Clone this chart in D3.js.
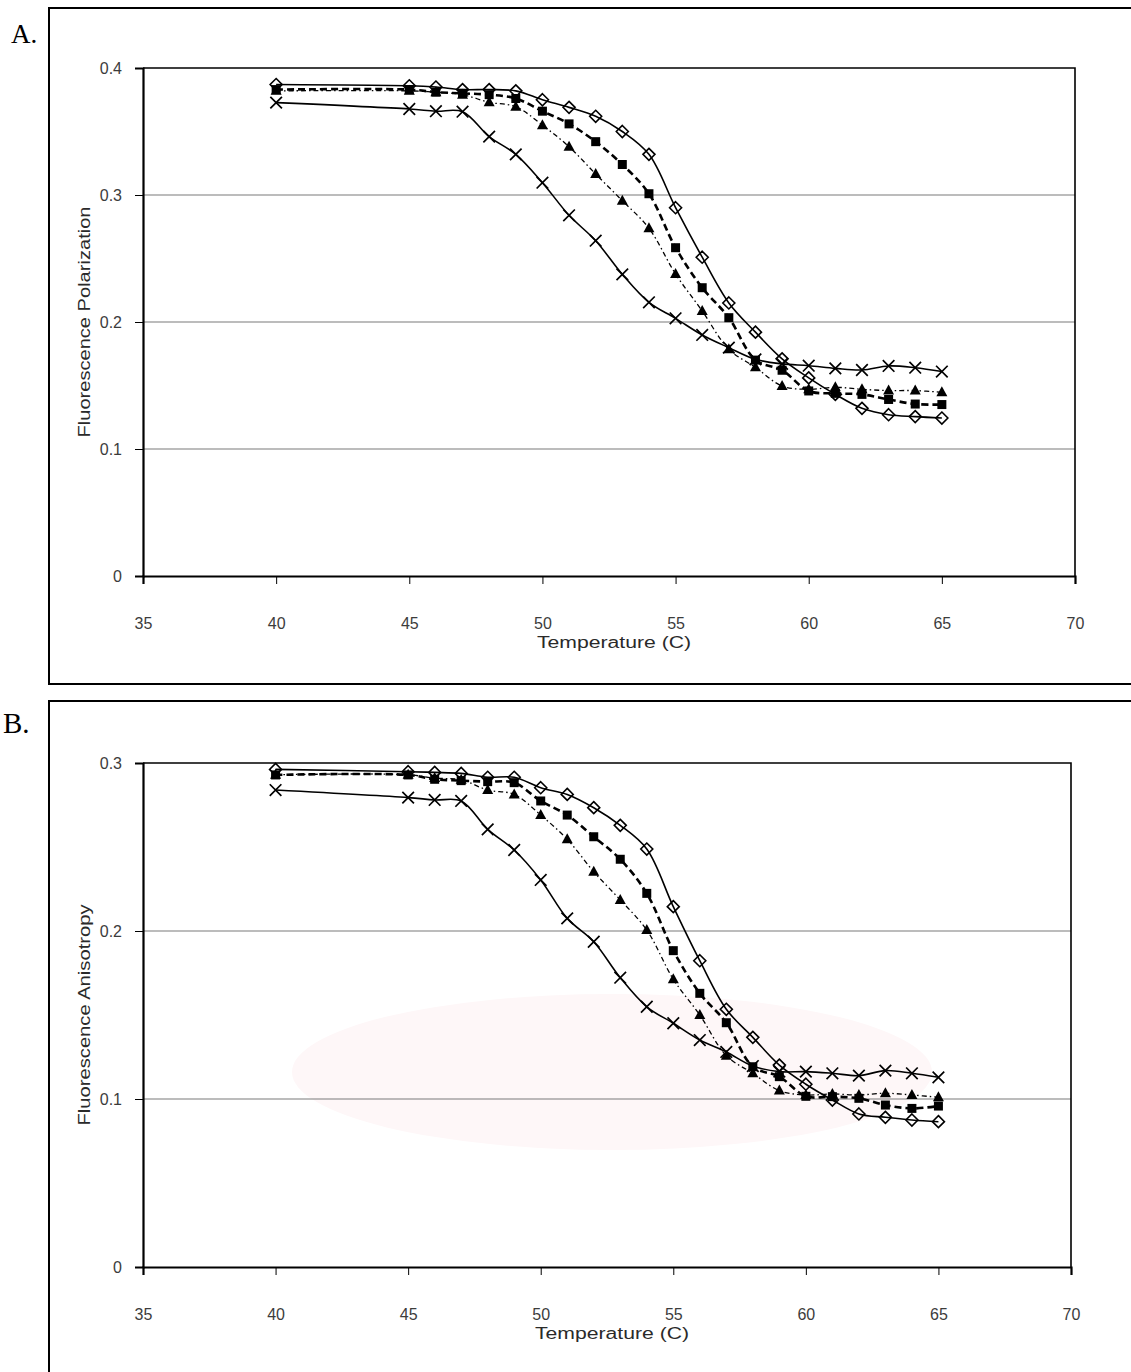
<!DOCTYPE html>
<html>
<head>
<meta charset="utf-8">
<script src="https://cdn.jsdelivr.net/npm/d3@7"></script>
<style>
  body { margin: 0; background: #fff; }
  svg { display: block; font-family: Arial, "Liberation Sans", Helvetica, sans-serif; }
</style>
</head>
<body>
<svg id="fig" width="1131" height="1372"></svg>
<script>
// Temperatures (°C) at which every sample was measured
const temps = [40, 45, 46, 47, 48, 49, 50, 51, 52, 53, 54, 55, 56, 57, 58, 59, 60, 61, 62, 63, 64, 65];

// A. Fluorescence polarization
const polDiamond  = [0.387, 0.386, 0.385, 0.383, 0.383, 0.382, 0.375, 0.369, 0.362, 0.350, 0.332, 0.290, 0.251, 0.215, 0.192, 0.171, 0.156, 0.143, 0.132, 0.127, 0.1255, 0.1244];
const polSquare   = [0.383, 0.383, 0.381, 0.380, 0.379, 0.376, 0.366, 0.356, 0.342, 0.324, 0.301, 0.2585, 0.227, 0.2034, 0.170, 0.162, 0.1457, 0.1438, 0.143, 0.139, 0.1354, 0.135];
const polTriangle = [0.382, 0.382, 0.381, 0.379, 0.373, 0.3695, 0.355, 0.338, 0.3165, 0.2955, 0.2738, 0.2378, 0.2087, 0.1785, 0.1643, 0.1496, 0.147, 0.1486, 0.147, 0.146, 0.146, 0.1446];
const polCross    = [0.3727, 0.3677, 0.366, 0.3656, 0.346, 0.332, 0.3097, 0.284, 0.264, 0.2375, 0.2155, 0.2029, 0.1898, 0.1798, 0.1706, 0.167, 0.1656, 0.1635, 0.1622, 0.1654, 0.164, 0.161];

// B. Fluorescence anisotropy
const aniDiamond  = [0.2962, 0.2948, 0.2944, 0.2938, 0.2915, 0.2915, 0.2853, 0.2813, 0.2734, 0.2629, 0.2488, 0.2145, 0.1823, 0.1534, 0.1367, 0.1202, 0.1088, 0.0994, 0.0911, 0.0891, 0.0875, 0.0865];
const aniSquare   = [0.2929, 0.2929, 0.2903, 0.2895, 0.2889, 0.2883, 0.2774, 0.269, 0.2561, 0.2427, 0.2224, 0.1883, 0.1629, 0.1454, 0.1192, 0.1133, 0.1016, 0.1014, 0.1004, 0.0964, 0.0944, 0.0958];
const aniTriangle = [0.293, 0.293, 0.291, 0.290, 0.2839, 0.2813, 0.269, 0.2546, 0.2353, 0.2185, 0.2006, 0.1713, 0.150, 0.1258, 0.1153, 0.105, 0.1024, 0.103, 0.1024, 0.1034, 0.1024, 0.101];
const aniCross    = [0.2839, 0.2794, 0.278, 0.2774, 0.2605, 0.2482, 0.2304, 0.2075, 0.1936, 0.1722, 0.1549, 0.1451, 0.1351, 0.128, 0.1196, 0.1163, 0.1163, 0.1153, 0.1139, 0.1169, 0.1153, 0.1129];

// Axis ticks and labels
const xTicks   = [35, 40, 45, 50, 55, 60, 65, 70];
const polTicks = [0, 0.1, 0.2, 0.3, 0.4];
const aniTicks = [0, 0.1, 0.2, 0.3];
const xTitle   = "Temperature (C)";
const panelTitles = ["Fluorescence Polarization", "Fluorescence Anisotropy"];
const panelLetters = ["A.", "B."];

const svg = d3.select("#fig");

// very faint pink backdrop shape behind the lower panel
svg.append("ellipse").attr("cx", 612).attr("cy", 1072).attr("rx", 320).attr("ry", 78)
  .attr("fill", "#fef7f8");

// ---- marker shapes ----
const markerPath = {
  diamond:  "M0,-6L6,0L0,6L-6,0Z",
  square:   "M-4.5,-4.5H4.5V4.5H-4.5Z",
  triangle: "M0,-6L5.5,4H-5.5Z",
  cross:    "M-5.8,-5.8L5.8,5.8M5.8,-5.8L-5.8,5.8"
};
const seriesStyle = {
  diamond:  { dash: null,          width: 1.6, fill: "none",  stroke: 1.6 },
  square:   { dash: "7,4",         width: 2.6, fill: "#000",  stroke: 0 },
  triangle: { dash: "5,3,1.5,3",   width: 1.3, fill: "#000",  stroke: 0 },
  cross:    { dash: null,          width: 1.6, fill: "none",  stroke: 1.7 }
};

const panels = [
  { frameTop: 8,   frameBottom: 684,  left: 143, right: 1075, top: 68,  bottom: 576,
    yMax: 0.4, yTicks: polTicks, yTitleLen: 231, letterX: 11, letterY: 43, letterSize: 27,
    series: { diamond: polDiamond, square: polSquare, triangle: polTriangle, cross: polCross } },
  { frameTop: 701, frameBottom: 1400, left: 143, right: 1071, top: 763, bottom: 1267,
    yMax: 0.3, yTicks: aniTicks, yTitleLen: 221, letterX: 3, letterY: 733, letterSize: 29,
    series: { diamond: aniDiamond, square: aniSquare, triangle: aniTriangle, cross: aniCross } }
];

panels.forEach((p, pi) => {
  // outer frame
  svg.append("rect")
    .attr("x", 49).attr("y", p.frameTop)
    .attr("width", 1140).attr("height", p.frameBottom - p.frameTop)
    .attr("fill", "none").attr("stroke", "#000").attr("stroke-width", 2);

  svg.append("text")
    .attr("x", p.letterX).attr("y", p.letterY)
    .attr("font-family", "'Liberation Serif', 'Times New Roman', serif")
    .attr("font-size", p.letterSize).attr("fill", "#000")
    .text(panelLetters[pi]);

  const x = d3.scaleLinear().domain([35, 70]).range([p.left, p.right]);
  const y = d3.scaleLinear().domain([0, p.yMax]).range([p.bottom, p.top]);

  const g = svg.append("g");

  // horizontal gridlines
  g.selectAll("line.grid")
    .data(p.yTicks.filter(t => t > 0 && t < p.yMax - 1e-9))
    .join("line").attr("class", "grid")
    .attr("x1", p.left).attr("x2", p.right)
    .attr("y1", d => y(d)).attr("y2", d => y(d))
    .attr("stroke", "#7a7a7a").attr("stroke-width", 1.1);

  // plot-area border
  g.append("path")
    .attr("d", `M${p.left},${p.top}H${p.right}V${p.bottom}`)
    .attr("fill", "none").attr("stroke", "#000").attr("stroke-width", 1.6);

  // axes
  const yAxis = g.append("g").attr("transform", `translate(${p.left},0)`)
    .call(d3.axisLeft(y).tickValues(p.yTicks).tickSize(8).tickPadding(13)
      .tickFormat(d => d === 0 ? "0" : d3.format(".1f")(d)));
  const xAxis = g.append("g").attr("transform", `translate(0,${p.bottom})`)
    .call(d3.axisBottom(x).tickValues(xTicks).tickSize(8).tickPadding(34));
  [yAxis, xAxis].forEach(a => {
    a.select(".domain").attr("stroke", "#000").attr("stroke-width", 2.2);
    a.selectAll(".tick line").attr("stroke", "#000").attr("stroke-width", 1);
    a.selectAll(".tick text").attr("font-size", 16).attr("fill", "#3c3c3c")
      .attr("font-family", "Arial, 'Liberation Sans', sans-serif");
  });

  // axis titles
  g.append("text")
    .attr("x", (p.left + p.right) / 2 + 5).attr("y", p.bottom + 72)
    .attr("text-anchor", "middle").attr("font-size", 16).attr("fill", "#2a2a2a")
    .attr("textLength", 154).attr("lengthAdjust", "spacingAndGlyphs")
    .text(xTitle);
  g.append("text")
    .attr("transform", `translate(90,${(p.top + p.bottom) / 2}) rotate(-90)`)
    .attr("text-anchor", "middle").attr("font-size", 16).attr("fill", "#2a2a2a")
    .attr("textLength", p.yTitleLen).attr("lengthAdjust", "spacingAndGlyphs")
    .text(panelTitles[pi]);

  // series lines (smoothed) and markers
  const line = d3.line()
    .x(d => x(d[0])).y(d => y(d[1]))
    .curve(d3.curveCatmullRom.alpha(0.5));

  ["cross", "triangle", "square", "diamond"].forEach(key => {
    const st = seriesStyle[key];
    const pts = temps.map((t, i) => [t, p.series[key][i]]);
    g.append("path").datum(pts)
      .attr("d", line)
      .attr("fill", "none").attr("stroke", "#000")
      .attr("stroke-width", st.width)
      .attr("stroke-dasharray", st.dash);
  });
  ["cross", "triangle", "square", "diamond"].forEach(key => {
    const st = seriesStyle[key];
    g.append("g").selectAll("path")
      .data(temps.map((t, i) => [t, p.series[key][i]]))
      .join("path")
      .attr("transform", d => `translate(${x(d[0])},${y(d[1])})`)
      .attr("d", markerPath[key])
      .attr("fill", st.fill)
      .attr("stroke", st.stroke ? "#000" : "none")
      .attr("stroke-width", st.stroke);
  });
});
</script>
</body>
</html>
